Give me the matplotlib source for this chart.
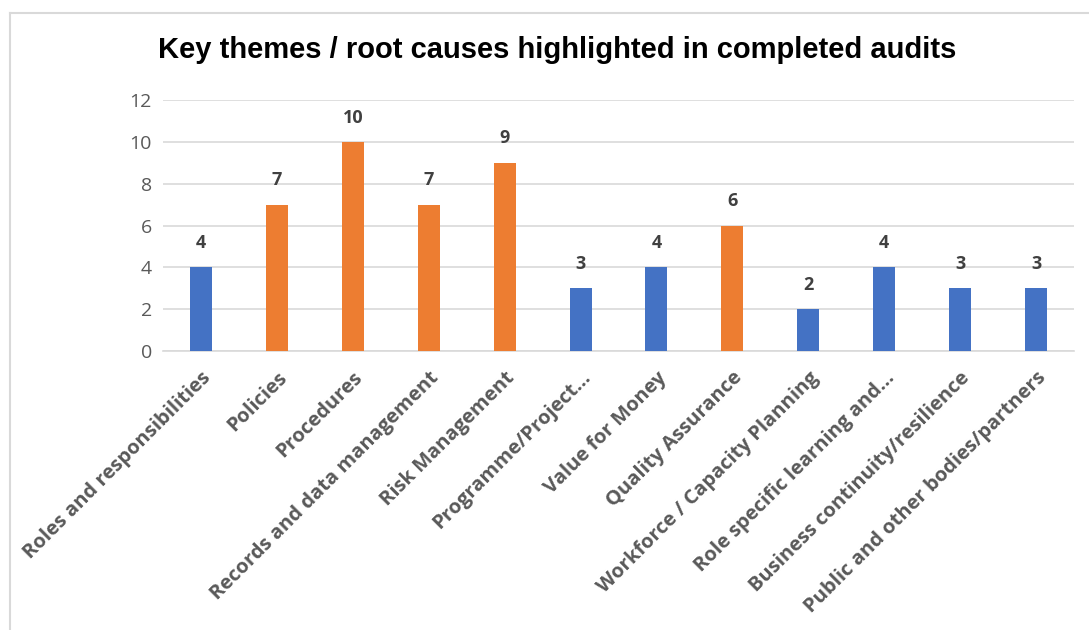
import matplotlib
matplotlib.use("Agg")
import matplotlib.pyplot as plt
from matplotlib.lines import Line2D

categories = [
    "Roles and responsibilities", "Policies", "Procedures",
    "Records and data management", "Risk Management", "Programme/Project…",
    "Value for Money", "Quality Assurance", "Workforce / Capacity Planning",
    "Role specific learning and…", "Business continuity/resilience",
    "Public and other bodies/partners",
]
values = [4, 7, 10, 7, 9, 3, 4, 6, 2, 4, 3, 3]
highlight = [False, True, True, True, True, False, False, True, False, False, False, False]
yticks = [0, 2, 4, 6, 8, 10, 12]
title = "Key themes / root causes highlighted in completed audits"

BLUE = "#4472C4"
ORANGE = "#ED7D31"

fig = plt.figure(figsize=(10.89, 6.3), dpi=100)
ax = fig.add_axes([163 / 1089, 1 - 351 / 630, (1074 - 163) / 1089, (351 - 100) / 630])

x = list(range(len(categories)))
colors = [ORANGE if h else BLUE for h in highlight]
bars = ax.bar(x, values, width=0.29, color=colors, zorder=3)

for xi, v in zip(x, values):
    ax.annotate(str(v), (xi, v), xytext=(0, 11), textcoords="offset points",
                ha="center", va="bottom", fontsize=13, fontweight="bold",
                color="#404040", family="Open Sans")

ax.set_xlim(-0.5, len(categories) - 0.5)
ax.set_ylim(0, 12)
ax.set_yticks(yticks)
ax.set_yticklabels([str(t) for t in yticks], fontsize=14, color="#595959", family="Open Sans")
ax.yaxis.grid(True, color="#D9D9D9", linewidth=1.2, zorder=0)
ax.set_axisbelow(True)
for s in ["top", "right", "left"]:
    ax.spines[s].set_visible(False)
ax.spines["bottom"].set_color("#D9D9D9")
ax.spines["bottom"].set_linewidth(1.2)
ax.tick_params(axis="both", length=0)
ax.tick_params(axis="y", pad=8)
ax.set_xticks(x)
ax.set_xticklabels(categories, rotation=45, ha="right", rotation_mode="anchor",
                   fontsize=14.5, fontweight="bold", color="#595959", family="Open Sans")
ax.tick_params(axis="x", pad=12)

fig.text(557 / 1089, 1 - 50 / 630, title, ha="center", va="center",
         fontsize=21, fontweight="bold", family="Liberation Sans", color="black")

# chart area border
fig.add_artist(Line2D([10 / 1089, 10 / 1089], [0, 1 - 13 / 630], transform=fig.transFigure,
                      color="#D9D9D9", linewidth=1.5))
fig.add_artist(Line2D([10 / 1089, 1], [1 - 13 / 630, 1 - 13 / 630], transform=fig.transFigure,
                      color="#D9D9D9", linewidth=1.5))

fig.savefig("out.png", dpi=100)
